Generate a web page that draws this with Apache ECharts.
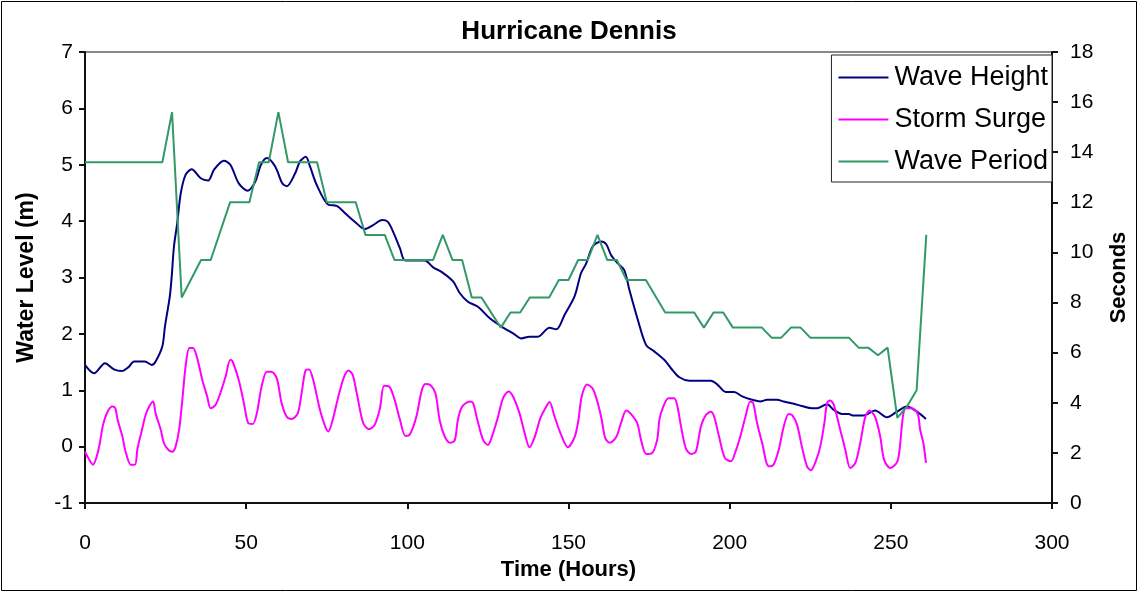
<!DOCTYPE html>
<html>
<head>
<meta charset="utf-8">
<script src="https://cdn.jsdelivr.net/npm/echarts@6/dist/echarts.min.js"></script>
<style>
  html, body { margin: 0; padding: 0; background: #fff; }
  #chart { width: 1138px; height: 592px; }
</style>
</head>
<body>
<div id="chart"></div>
<script>
// hours since start
const heightHours = [0, 2.8, 6.2, 9, 11.4, 13.5, 15.2, 18.6, 20.7, 21.9, 24, 24.8, 26.3, 26.9, 27.6, 28.6, 29.7, 31.2, 33.1, 35.9,
  38.2, 40, 43.1, 45.1, 47.7, 50.4, 52.8, 54.6, 56.4, 59, 61.2, 62.6, 65.2, 66.7, 68.5, 69.8, 71.9, 75.5, 78.1, 80.7,
  83.7, 86.8, 89.4, 92.2, 93.9, 95.6, 97.7, 99.4, 105.4, 108, 110.6, 114.2, 116.3, 118.8, 121.9, 125.5, 129.2, 132.8, 135.4, 137.9,
  140.5, 144.1, 146.2, 148.8, 151.9, 153.9, 155.5, 157.5, 160.1, 161.7, 163.2, 165.3, 167.3, 168.9, 171.5, 174.1, 176.6, 179.7, 181.8, 184.4,
  187.5, 194.2, 196.2, 198.8, 201.4, 203.9, 207, 209.5, 211.6, 214.7, 216.8, 219.9, 222.4, 225.5, 227.1, 230.2, 232.3, 234.8, 236.9, 238.4,
  241.5, 245.1, 248.8, 251.9, 255, 258.1, 260.9];
const heightValues = [1.45, 1.30, 1.48, 1.37, 1.34, 1.41, 1.51, 1.51, 1.45, 1.51, 1.78, 2.13, 2.66, 3.02, 3.55, 3.96, 4.49, 4.82, 4.92, 4.76,
  4.72, 4.91, 5.07, 5.00, 4.67, 4.54, 4.70, 5.00, 5.12, 4.97, 4.67, 4.62, 4.85, 5.06, 5.14, 4.97, 4.64, 4.29, 4.27, 4.14,
  3.99, 3.86, 3.93, 4.02, 3.99, 3.81, 3.52, 3.30, 3.30, 3.18, 3.10, 2.93, 2.72, 2.57, 2.48, 2.28, 2.13, 2.01, 1.92, 1.95,
  1.95, 2.11, 2.08, 2.34, 2.67, 3.08, 3.25, 3.55, 3.64, 3.59, 3.40, 3.25, 3.13, 2.78, 2.25, 1.80, 1.69, 1.54, 1.39, 1.23,
  1.17, 1.17, 1.10, 0.97, 0.97, 0.89, 0.83, 0.80, 0.83, 0.83, 0.80, 0.76, 0.72, 0.68, 0.68, 0.75, 0.65, 0.58, 0.58, 0.55,
  0.55, 0.64, 0.52, 0.62, 0.71, 0.62, 0.49];

const surgeHours = [0, 1.3, 2.5, 3.6, 4.6, 5.6, 7, 8.5, 9.4, 10.1, 11.6, 12.6, 14.2, 15.5, 16.3, 17.8, 18.8, 19.9, 21.1, 21.9,
  23.5, 24.5, 25.9, 27.1, 28.1, 29.2, 30.2, 31.2, 32.4, 33.5, 34.8, 36.4, 37.9, 39, 40.5, 42, 43.6, 45.1, 45.8, 47.7,
  49.3, 50.6, 52, 53.3, 54.8, 56.4, 57.8, 59.5, 61, 62.6, 64.1, 66, 67.2, 68.5, 69.5, 70.8, 72.9, 74.5, 75.5, 77,
  78.6, 80.4, 81.7, 83, 84.3, 86.3, 88.1, 89.9, 91.5, 92.8, 94.3, 95.9, 97.7, 99.4, 100.8, 102.8, 104.4, 105.6, 107.2, 108.7,
  110.1, 111.6, 113.2, 114.7, 115.7, 117, 119.4, 120.4, 121.7, 123.5, 125, 126.2, 127.9, 129.7, 131.4, 132.8, 134.8, 136.4, 137.9, 139.5,
  141.3, 143.1, 144.1, 145.7, 147.5, 149.8, 151.9, 153.1, 154.1, 155.8, 157.5, 159.1, 160.3, 161.4, 162.8, 164.8, 166.3, 167.9, 169.2, 171.3,
  172.5, 174.1, 175.8, 177.5, 178.2, 179.2, 181, 182.8, 183.8, 184.9, 186.4, 188, 189.5, 191.1, 192.6, 194.2, 195.2, 196.7, 198.5, 200.4,
  201.8, 203.3, 204.9, 206.4, 207.3, 208.5, 210.1, 212.1, 213.6, 215.2, 216.8, 218.3, 219.4, 220.9, 222.4, 224, 225.2, 226.9, 228.1, 229.4,
  230.2, 231.2, 232.3, 234.3, 235.9, 237.4, 239, 240.5, 242, 243.4, 245.1, 246.7, 247.9, 249.8, 251.9, 252.7, 253.3, 253.9, 254.6, 256.5,
  258.3, 259.1, 260.1, 260.9];
const surgeValues = [-0.09, -0.23, -0.32, -0.18, 0.06, 0.39, 0.62, 0.71, 0.68, 0.48, 0.18, -0.09, -0.32, -0.32, -0.03, 0.33, 0.56, 0.71, 0.80, 0.59,
  0.30, 0.06, -0.06, -0.09, 0.00, 0.30, 0.83, 1.42, 1.75, 1.75, 1.57, 1.18, 0.89, 0.68, 0.74, 0.95, 1.24, 1.54, 1.51, 1.18,
  0.77, 0.42, 0.40, 0.59, 1.07, 1.33, 1.33, 1.21, 0.77, 0.53, 0.49, 0.59, 0.95, 1.36, 1.37, 1.18, 0.65, 0.36, 0.27, 0.51,
  0.89, 1.24, 1.35, 1.28, 0.95, 0.42, 0.31, 0.39, 0.68, 1.08, 1.07, 0.86, 0.48, 0.19, 0.22, 0.53, 0.98, 1.11, 1.09, 0.95,
  0.45, 0.18, 0.07, 0.11, 0.48, 0.71, 0.80, 0.77, 0.48, 0.12, 0.03, 0.17, 0.48, 0.86, 0.98, 0.89, 0.59, 0.24, -0.01, 0.17,
  0.51, 0.71, 0.79, 0.53, 0.24, -0.01, 0.17, 0.48, 0.89, 1.10, 1.03, 0.77, 0.48, 0.15, 0.07, 0.17, 0.42, 0.64, 0.59, 0.42,
  0.12, -0.13, -0.12, 0.12, 0.48, 0.68, 0.86, 0.86, 0.71, 0.36, -0.03, -0.13, -0.09, 0.36, 0.56, 0.62, 0.53, 0.18, -0.20, -0.26,
  -0.09, 0.18, 0.53, 0.80, 0.77, 0.42, 0.06, -0.35, -0.32, -0.06, 0.36, 0.58, 0.56, 0.39, 0.00, -0.35, -0.42, -0.23, 0.00, 0.42,
  0.77, 0.82, 0.74, 0.30, -0.06, -0.38, -0.29, 0.06, 0.51, 0.64, 0.53, 0.18, -0.23, -0.38, -0.28, -0.06, 0.30, 0.59, 0.68, 0.68,
  0.59, 0.30, 0.06, -0.29];

const periodHours = [0, 24, 27, 30, 36, 39, 45, 51, 54, 57, 60, 63, 72, 75, 84, 87, 93, 96, 108, 111,
  114, 117, 120, 123, 129, 132, 135, 138, 144, 147, 150, 153, 156, 159, 162, 165, 168, 174, 180, 189,
  192, 195, 198, 201, 210, 213, 216, 219, 222, 225, 237, 240, 243, 246, 249, 252, 255, 258, 261];
const periodValues = [13.6, 13.6, 15.6, 8.2, 9.7, 9.7, 12.0, 12.0, 13.6, 13.6, 15.6, 13.6, 13.6, 12.0, 12.0, 10.7, 10.7, 9.7, 9.7, 10.7,
  9.7, 9.7, 8.2, 8.2, 7.0, 7.6, 7.6, 8.2, 8.2, 8.9, 8.9, 9.7, 9.7, 10.7, 9.7, 9.7, 8.9, 8.9, 7.6, 7.6,
  7.0, 7.6, 7.6, 7.0, 7.0, 6.6, 6.6, 7.0, 7.0, 6.6, 6.6, 6.2, 6.2, 5.9, 6.2, 3.4, 3.85, 4.5, 10.7];

const pairs = (xs, ys) => xs.map((x, i) => [x, ys[i]]);

const font = 'Arial, "Liberation Sans", sans-serif';
const axisLine = { show: true, onZero: false, lineStyle: { color: '#111', width: 2 } };
const axisTick = { show: true, inside: false, length: 6, lineStyle: { color: '#111', width: 2 } };

const chart = echarts.init(document.getElementById('chart'));
chart.setOption({
  backgroundColor: '#fff',
  animation: false,
  textStyle: { fontFamily: font, color: '#000' },
  title: {
    text: 'Hurricane Dennis',
    left: 'center',
    top: 14,
    textStyle: { fontFamily: font, fontSize: 26, fontWeight: 'bold', color: '#000' }
  },
  graphic: [{
    type: 'rect',
    shape: { x: 1.5, y: 1.5, width: 1135, height: 589 },
    style: { fill: 'none', stroke: '#000', lineWidth: 1 },
    silent: true
  }],
  legend: {
    orient: 'vertical',
    right: 86,
    top: 55,
    padding: [9, 4, 7, 7],
    icon: 'rect',
    itemWidth: 50,
    itemHeight: 2,
    itemGap: 15,
    backgroundColor: '#fff',
    borderColor: '#222',
    borderWidth: 1,
    textStyle: { fontFamily: font, fontSize: 27, color: '#000', padding: [0, 0, 0, 1] },
    data: ['Wave Height', 'Storm Surge', 'Wave Period']
  },
  grid: {
    left: 85, right: 85, top: 52, bottom: 89,
    show: true, borderColor: '#888', borderWidth: 2, backgroundColor: 'transparent'
  },
  xAxis: {
    type: 'value',
    min: 0, max: 300, interval: 50,
    name: 'Time (Hours)',
    nameLocation: 'middle',
    nameGap: 53,
    nameTextStyle: { fontFamily: font, fontSize: 22, fontWeight: 'bold', color: '#000' },
    axisLine, axisTick,
    axisLabel: { fontFamily: font, fontSize: 21, color: '#000', margin: 30 },
    splitLine: { show: false }
  },
  yAxis: [{
    type: 'value',
    min: -1, max: 7, interval: 1,
    name: 'Water Level (m)',
    nameLocation: 'middle',
    nameGap: 47,
    nameTextStyle: { fontFamily: font, fontSize: 23, fontWeight: 'bold', color: '#000' },
    axisLine, axisTick,
    axisLabel: { fontFamily: font, fontSize: 21, color: '#000', margin: 12 },
    splitLine: { show: false }
  }, {
    type: 'value',
    position: 'right',
    min: 0, max: 18, interval: 2,
    name: 'Seconds',
    nameLocation: 'middle',
    nameGap: 56,
    nameRotate: 90,
    nameTextStyle: { fontFamily: font, fontSize: 22, fontWeight: 'bold', color: '#000' },
    axisLine, axisTick,
    axisLabel: { fontFamily: font, fontSize: 21, color: '#000', margin: 18 },
    splitLine: { show: false }
  }],
  series: [{
    name: 'Wave Height',
    type: 'line',
    data: pairs(heightHours, heightValues),
    symbol: 'none',
    smooth: 0.3,
    color: '#000080',
    lineStyle: { color: '#000080', width: 2 }
  }, {
    name: 'Storm Surge',
    type: 'line',
    data: pairs(surgeHours, surgeValues),
    symbol: 'none',
    smooth: 0.3,
    color: '#ff00ff',
    lineStyle: { color: '#ff00ff', width: 2 }
  }, {
    name: 'Wave Period',
    type: 'line',
    yAxisIndex: 1,
    data: pairs(periodHours, periodValues),
    symbol: 'none',
    color: '#339966',
    lineStyle: { color: '#339966', width: 2 }
  }]
});
</script>
</body>
</html>
